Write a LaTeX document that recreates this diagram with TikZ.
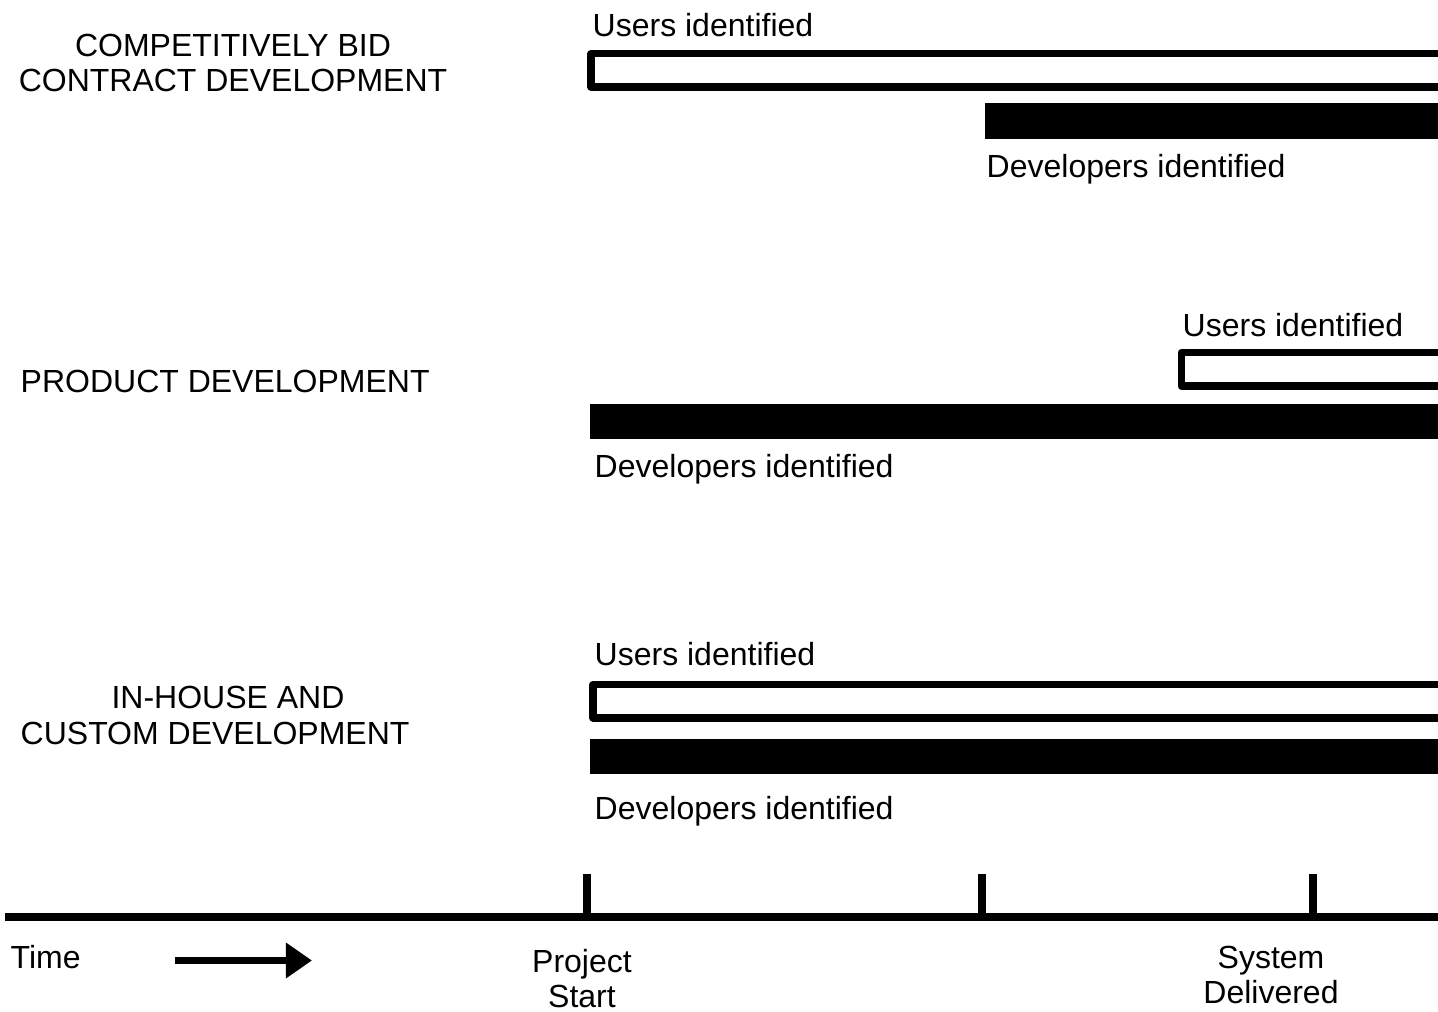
\documentclass[tikz,border=0pt]{standalone}
\usepackage{fontspec}
\setmainfont{Liberation Sans}
\usetikzlibrary{arrows.meta}

\begin{document}
\begin{tikzpicture}[x=0.01cm, y=-0.01cm,
	lbl/.style={font=\fontsize{9.1}{9.96}\selectfont, inner sep=0pt, anchor=base west},
	mlbl/.style={font=\fontsize{9.1}{9.96}\selectfont, inner sep=0pt, align=center},
	userbar/.style={line width=0.07cm, line join=round},
	devbar/.style={fill=black},
	timeline/.style={line width=0.08cm},
	timearrow/.style={line width=0.07cm, -{Triangle[length=0.26cm, width=0.34cm]}}]
		\useasboundingbox (0,0) rectangle (1438,1012);

		% row labels
		\node[mlbl] (bid) at (233,62.5) {COMPETITIVELY BID\\CONTRACT DEVELOPMENT};
		\node[lbl] (prod) at (20,392) {PRODUCT DEVELOPMENT};
		\node[lbl, anchor=base] (inh) at (228,708) {IN-HOUSE AND};
		\node[lbl] (cust) at (20,744) {CUSTOM DEVELOPMENT};

		% competitively bid
		\node[lbl] (users1) at (592,36) {Users identified};
		\draw[userbar] (1445,53.5) -- (591,53.5) -- (591,87) -- (1445,87);
		\fill[devbar] (985,103) rectangle (1445,139);
		\node[lbl] (dev1) at (986,177) {Developers identified};

		% product
		\node[lbl] (users2) at (1182,336) {Users identified};
		\draw[userbar] (1445,352.5) -- (1181,352.5) -- (1181,386) -- (1445,386);
		\fill[devbar] (590,404) rectangle (1445,439);
		\node[lbl] (dev2) at (594,477) {Developers identified};

		% in-house
		\node[lbl] (users3) at (594,665) {Users identified};
		\draw[userbar] (1445,684.5) -- (593,684.5) -- (593,718) -- (1445,718);
		\fill[devbar] (590,739) rectangle (1445,774);
		\node[lbl] (dev3) at (594,819) {Developers identified};

		% time axis
		\draw[timeline] (5,917) -- (1445,917);
		\foreach \tx in {587,982,1313}
			\draw[timeline] (\tx,874) -- (\tx,917);

		\node[lbl] (time) at (10,968) {Time};
		\coordinate (tail) at (175,960.5);
		\coordinate (tip) at (312,960.5);
		\draw[timearrow] (tail) -- (tip);

		\node[mlbl] (start) at (582,979) {Project\\Start};
		\node[mlbl] (deliv) at (1271,974.5) {System\\Delivered};
	\end{tikzpicture}
\end{document}
